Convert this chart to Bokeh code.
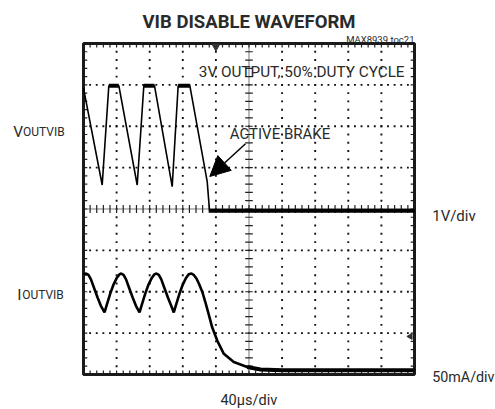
from bokeh.plotting import figure
from bokeh.models import Range1d, Label, Arrow, NormalHead
from bokeh.embed import file_html
from bokeh.resources import INLINE
import numpy as np

# ---- data ----
# time axis in microseconds (40 us/div, 10 divisions)
v_t = [0, 22.6, 30.6, 42.7, 64.9, 72.9, 85.8, 107.2, 114.4, 128.5, 149.5, 152.3, 400]
v_volt = [2.92, 0.58, 2.98, 2.98, 0.58, 2.98, 2.98, 0.54, 2.98, 2.98, 0.66, -0.04, -0.04]

i_t = [0, 3.3, 6, 9, 13, 17, 21, 25.4, 28.4, 32.4, 36.4, 40.4, 43.4,
       45.6, 48.4, 51.4, 55.4, 59.4, 63.4, 67.7, 70.7, 74.7, 78.7, 82.7, 85.7,
       88.2, 91, 94, 98, 102, 106, 109.1, 112.1, 116.1, 120.1, 124.1, 127.1,
       130.5, 133.5, 136.5, 139.4, 143.5, 147.4, 151.5, 155.5, 161.6, 169.6, 181.6, 197.8,
       213.9, 240, 280, 320, 360, 400]
i_ma = [121, 122, 120.5, 115, 104, 93, 83, 75, 85, 98, 109, 117, 121,
        122, 120.5, 115, 104, 93, 83, 75, 85, 98, 109, 117, 121,
        122, 120.5, 115, 104, 93, 83, 75, 85, 98, 109, 117, 121,
        122, 120, 116, 110, 100, 87, 72, 57, 41, 25, 15, 9,
        6, 5, 5, 5, 5, 5]

title_text = "VIB DISABLE WAVEFORM"
toc_text = "MAX8939 toc21"
cond_text = "3V OUTPUT, 50% DUTY CYCLE"
brake_text = "ACTIVE BRAKE"
v_scale_text = "1V/div"
i_scale_text = "50mA/div"
t_scale_text = "40\u00b5s/div"

FONT = "Roboto"
TXT = "#2a2a2a"

# ---- figure: whole canvas is the frame; the 10 x 8 division screen is drawn inside ----
p = figure(width=495, height=409, output_backend="svg", toolbar_location=None,
           x_range=Range1d(-100.3, 497.9), y_range=Range1d(-0.846, 9.039),
           x_axis_type=None, y_axis_type=None,
           min_border_left=0, min_border_right=0, min_border_top=0, min_border_bottom=0)
p.extra_y_ranges = {"v": Range1d(-4.846, 5.039), "i": Range1d(-42.3, 451.95)}
p.outline_line_color = None
p.background_fill_color = "white"
p.border_fill_color = "white"
p.xgrid.visible = False
p.ygrid.visible = False

# dotted graticule: dots every 1/5 division along each division line
xm = np.arange(0, 400.1, 8)
ym = np.arange(0, 8.001, 0.2)
gx_lines = [40, 80, 120, 160, 240, 280, 320, 360]
gy_lines = [1, 2, 3, 5, 6, 7]
dots_x = np.concatenate([np.repeat(gx_lines, len(ym)), np.tile(xm, len(gy_lines))])
dots_y = np.concatenate([np.tile(ym, len(gx_lines)), np.repeat(gy_lines, len(xm)).astype(float)])
p.scatter(dots_x, dots_y, marker="square", size=1.9, color="#111111", line_width=0)

# solid centre lines
p.segment([200, 0], [0, 4], [200, 400], [8, 4], line_color="#777777", line_width=1)

# minor tick marks (5 per division) on the border and centre lines
dy = 0.095
dx = 4.6
seg_x0 = np.concatenate([xm, xm, xm, np.zeros_like(ym), np.full_like(ym, 400), np.full_like(ym, 200 - dx)])
seg_x1 = np.concatenate([xm, xm, xm, np.full_like(ym, dx), np.full_like(ym, 400 - dx), np.full_like(ym, 200 + dx)])
seg_y0 = np.concatenate([np.full_like(xm, 8), np.zeros_like(xm), np.full_like(xm, 4 - dy), ym, ym, ym])
seg_y1 = np.concatenate([np.full_like(xm, 8 - dy), np.full_like(xm, dy), np.full_like(xm, 4 + dy), ym, ym, ym])
p.segment(seg_x0, seg_y0, seg_x1, seg_y1, line_color="#222222", line_width=1.2)

# screen border
p.quad(left=[0], right=[400], bottom=[0], top=[8], fill_alpha=0,
       line_color="#1a1a1a", line_width=3)

# trigger markers
p.scatter([160], [7.93], marker="inverted_triangle", size=8, color="#333333")
p.scatter([395], [0.92], marker="triangle", size=6, angle=np.pi / 2, color="#333333")

# ---- traces ----
p.line(v_t, v_volt, y_range_name="v", line_color="black", line_width=1.6)
vt = np.array(v_t)
vv = np.array(v_volt)
flat = np.where(np.isclose(vv[:-1], vv[1:]))[0]
p.segment(vt[flat], vv[flat], vt[flat + 1], vv[flat + 1], y_range_name="v",
          line_color="black", line_width=4)

p.line(i_t, i_ma, y_range_name="i", line_color="black", line_width=2.6)
it = np.array(i_t)
im = np.array(i_ma)
tail = it >= 190
p.line(it[tail], im[tail], y_range_name="i", line_color="black", line_width=4)

# ---- texts ----
def lab(x, y, text, size, align="left", style="normal", **kw):
    p.add_layout(Label(x=x, y=y, text=text, text_font=FONT, text_font_size=size,
                       text_align=align, text_baseline="alphabetic", text_color=TXT,
                       text_font_style=style, **kw))

lab(200, 8.515, title_text, "18.5px", align="center", style="bold")
lab(400, 8.097, toc_text, "9.5px", align="right")
lab(388, 7.31, cond_text, "15.3px", align="right")
lab(176.8, 5.817, brake_text, "15px")
lab(-85, 5.856, "V", "15.5px")
lab(-85, 5.856, "OUTVIB", "12px", x_offset=9.8)
lab(-80.2, 1.93, "I", "15.5px")
lab(-80.2, 1.93, "OUTVIB", "12px", x_offset=5)
lab(421.4, 3.84, v_scale_text, "15px")
lab(421.4, -0.065, i_scale_text, "14.3px")
lab(199.8, -0.62, t_scale_text, "14.5px", align="center")

p.add_layout(Arrow(x_start=195.8, y_start=5.576, x_end=152.6, y_end=4.786,
                   line_color="black", line_width=1.5,
                   end=NormalHead(size=20, fill_color="black", line_color="black")))

open("out.html", "w").write(file_html(p, INLINE))
